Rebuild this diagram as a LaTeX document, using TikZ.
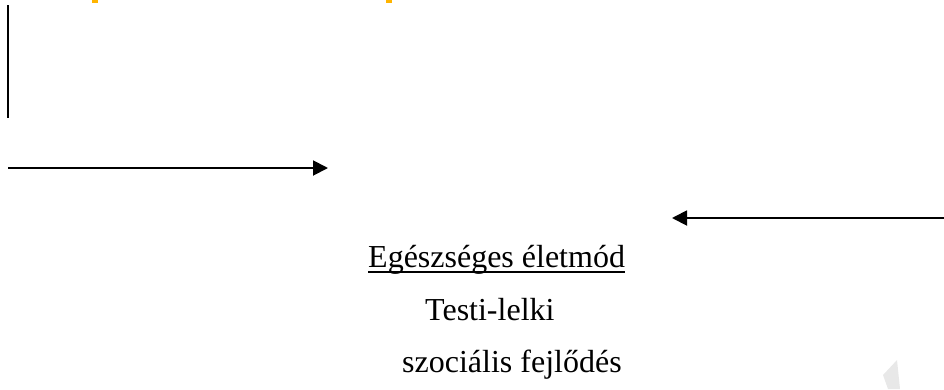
\documentclass[tikz,border=0pt]{standalone}
\usepackage{fontspec}
\setmainfont{Liberation Serif}
\usetikzlibrary{arrows.meta}
\definecolor{amber}{RGB}{255,180,0}
\tikzset{
  conn/.style={line width=1.9pt, black},
  arr/.style={conn, -{Triangle[length=15pt,width=15pt]}},
  lbl/.style={anchor=base west, inner sep=0pt, font=\fontsize{32}{38}\selectfont},
}
\begin{document}
\begin{tikzpicture}[x=1pt,y=-1pt]
\useasboundingbox (0,0) rectangle (944,389);
% faint top marks
\fill[amber] (92,0) rectangle (98,2.5);
\fill[amber] (386,0) rectangle (392,2.5);
\fill[gray!18] (897,360) -- (883,375) -- (888,389) -- (900,389) -- cycle;
% vertical line
\coordinate (v1) at (8,5);
\coordinate (v2) at (8,118);
\draw[conn] (v1) -- (v2);
% right arrow
\coordinate (a1) at (8,168);
\coordinate (a2) at (328,168);
\draw[arr] (a1) -- (a2);
% left arrow
\coordinate (b1) at (944,218);
\coordinate (b2) at (672,218);
\draw[arr] (b1) -- (b2);
% texts
\node[lbl] (t1) at (368,267) {Egészséges életmód};
\draw[line width=1.4pt] (t1.base west) ++(0,5) coordinate (u1) -- (u1 -| t1.east);
\node[lbl] (t2) at (425,320) {Testi-lelki};
\node[lbl] (t3) at (402,372) {szociális fejlődés};
\end{tikzpicture}
\end{document}
